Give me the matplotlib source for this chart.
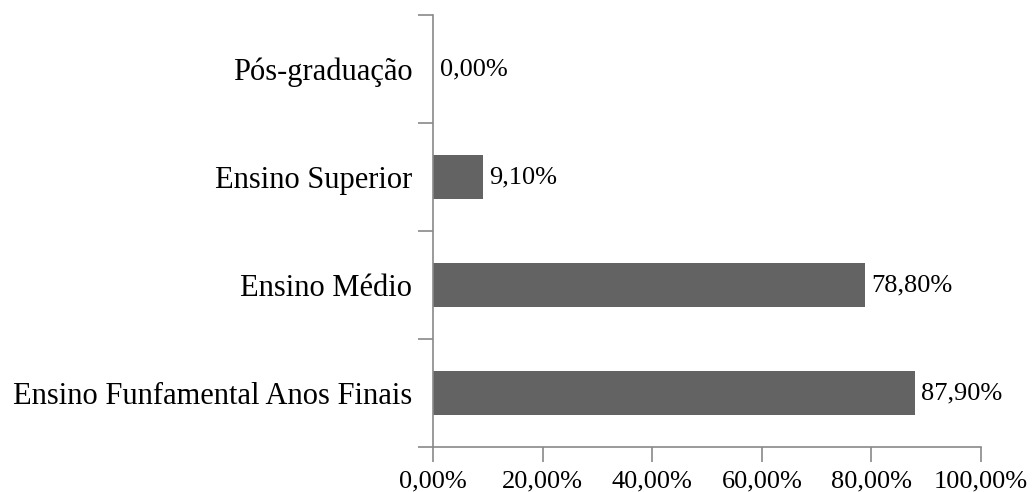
import matplotlib.pyplot as plt
import numpy as np
from matplotlib.ticker import FuncFormatter, FixedLocator

plt.rcParams['font.family'] = ['Liberation Serif', 'DejaVu Serif']

categorias = ['Ensino Funfamental Anos Finais', 'Ensino Médio', 'Ensino Superior', 'Pós-graduação']
valores = [87.9, 78.8, 9.1, 0.0]
xticks = [0, 20, 40, 60, 80, 100]

corBarra = "#636363"
corEixo = "#898989"

fig = plt.figure(figsize=(10.32, 4.92), dpi=100)
ax = fig.add_axes([0.4196, 0.0915, 0.5310, 0.8780])

y = np.arange(len(categorias))
ax.barh(y, valores, height=0.4, color=corBarra)

for yi, v in zip(y, valores):
    ax.text(v + 1.2, yi, ('%.2f%%' % v).replace('.', ','), va='center', ha='left', fontsize=19)

ax.set_xlim(0, 100)
ax.set_ylim(-0.5, len(categorias) - 0.5)
ax.set_xticks(xticks)
ax.xaxis.set_major_formatter(FuncFormatter(lambda x, pos: ('%.2f%%' % x).replace('.', ',')))

ax.set_yticks(y)
ax.set_yticklabels(categorias)
ax.yaxis.set_minor_locator(FixedLocator(np.arange(-0.5, len(categorias), 1.0)))

ax.tick_params(axis='y', which='major', length=0, pad=15, labelsize=22)
ax.tick_params(axis='y', which='minor', length=11, width=1.2, color=corEixo, direction='out')
ax.tick_params(axis='x', which='major', length=11, width=1.2, color=corEixo, direction='out', pad=6, labelsize=19)

for s in ['top', 'right']:
    ax.spines[s].set_visible(False)
for s in ['left', 'bottom']:
    ax.spines[s].set_color(corEixo)
    ax.spines[s].set_linewidth(1.2)

fig.savefig("out.png", dpi=100)
